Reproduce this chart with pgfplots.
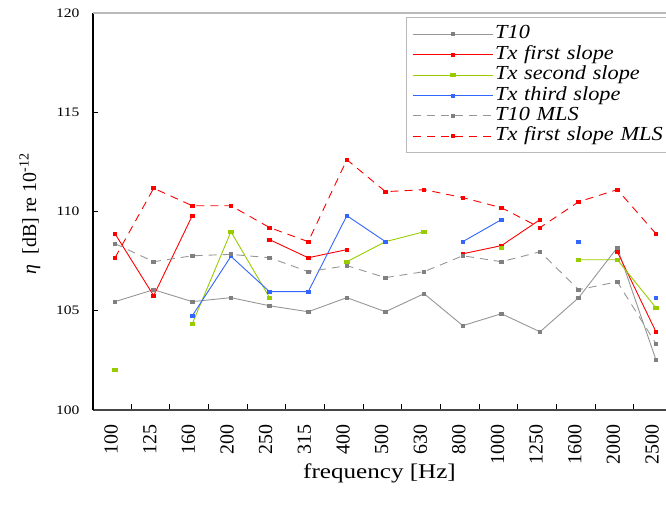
\documentclass[border=0pt]{standalone}
\usepackage{fontspec}
\setmainfont{Liberation Serif}
\newfontfamily\widefont{Liberation Serif}[FakeStretch=1.2]
\newfontfamily\legfont{Liberation Serif}[FakeStretch=1.12]
\usepackage{pgfplots}
\usepackage{pgfplotstable}
\pgfplotsset{compat=1.18}

\definecolor{cgray}{RGB}{128,128,128}
\definecolor{cgrayl}{RGB}{150,150,150}
\definecolor{cred}{RGB}{255,0,0}
\definecolor{cgreen}{RGB}{153,204,0}
\definecolor{cblue}{RGB}{51,102,255}
\definecolor{cframe}{RGB}{185,185,185}

% frequency bands at x = 0..14, gaps as nan
\pgfplotstableread{
x  t10    tx1    tx2    tx3    t10mls tx1mls
0  105.46 108.88 102.03 nan    108.38 107.67
1  106.06 105.76 nan    nan    107.47 111.17
2  105.46 109.79 104.35 104.75 107.77 110.29
3  105.66 nan    108.98 107.74 107.84 110.29
4  105.25 108.58 105.66 105.96 107.67 109.19
5  104.95 107.67 nan    105.96 106.97 108.48
6  105.66 108.08 107.47 109.79 107.27 112.61
7  104.95 nan    108.48 108.48 106.67 111.00
8  105.86 nan    108.98 nan    106.97 111.10
9  104.25 107.87 nan    108.48 107.77 110.70
10 104.85 108.28 108.18 109.59 107.47 110.19
11 103.94 109.59 nan    nan    107.97 109.19
12 105.66 nan    107.57 108.48 106.06 110.49
13 108.18 107.97 107.57 nan    106.46 111.10
14 102.53 103.94 105.15 105.66 103.34 108.88
}\etadata

% one style per series; the legend picture is spelled out so its colours are sure
\pgfplotsset{
  sgray/.style={color=cgrayl, mark=square*, mark size=1.8bp, mark options={solid, draw=cgray, fill=cgray, yscale=0.8},
    legend image code/.code={\draw[color=cgrayl, line width=0.9bp, mark repeat=2, mark phase=2, mark=square*, mark size=1.8bp, mark options={solid, draw=cgray, fill=cgray, yscale=0.8}] plot coordinates {(0bp,0bp) (40bp,0bp) (80bp,0bp)};}},
  sgraymls/.style={color=cgrayl, dash pattern=on 8bp off 6bp, mark=square*, mark size=1.8bp, mark options={solid, draw=cgray, fill=cgray, yscale=0.8},
    legend image code/.code={\draw[color=cgrayl, line width=0.9bp, dash pattern=on 8bp off 6bp, mark repeat=2, mark phase=2, mark=square*, mark size=1.8bp, mark options={solid, draw=cgray, fill=cgray, yscale=0.8}] plot coordinates {(0bp,0bp) (40bp,0bp) (80bp,0bp)};}},
  sred/.style={color=cred, mark=square*, mark size=1.8bp, mark options={solid, yscale=0.8},
    legend image code/.code={\draw[color=cred, line width=0.9bp, mark repeat=2, mark phase=2, mark=square*, mark size=1.8bp, mark options={solid, yscale=0.8}] plot coordinates {(0bp,0bp) (40bp,0bp) (80bp,0bp)};}},
  sredmls/.style={color=cred, dash pattern=on 8bp off 6bp, mark=square*, mark size=1.8bp, mark options={solid, yscale=0.8},
    legend image code/.code={\draw[color=cred, line width=0.9bp, dash pattern=on 8bp off 6bp, mark repeat=2, mark phase=2, mark=square*, mark size=1.8bp, mark options={solid, yscale=0.8}] plot coordinates {(0bp,0bp) (40bp,0bp) (80bp,0bp)};}},
  sgreen/.style={color=cgreen, mark=square*, mark size=2.2bp, mark options={solid, yscale=0.7},
    legend image code/.code={\draw[color=cgreen, line width=0.9bp, mark repeat=2, mark phase=2, mark=square*, mark size=2.2bp, mark options={solid, yscale=0.7}] plot coordinates {(0bp,0bp) (40bp,0bp) (80bp,0bp)};}},
  sblue/.style={color=cblue, mark=square*, mark size=1.8bp, mark options={solid, yscale=0.8},
    legend image code/.code={\draw[color=cblue, line width=0.9bp, mark repeat=2, mark phase=2, mark=square*, mark size=1.8bp, mark options={solid, yscale=0.8}] plot coordinates {(0bp,0bp) (40bp,0bp) (80bp,0bp)};}},
}

\begin{document}
\begin{tikzpicture}
\begin{axis}[
  at={(0bp,0bp)}, anchor=south west,
  width=573bp, height=397bp, scale only axis,
  xmin=-0.57, xmax=14.26, ymin=100, ymax=120,
  axis x line*=bottom, axis y line*=left,
  x axis line style={-, draw={rgb,255:red,70;green,70;blue,70}, line width=1.3bp},
  y axis line style={-, black, line width=1.3bp},
  tick align=inside,
  xtick={-0.1,0.9,1.9,2.9,3.9,4.9,5.9,6.9,7.9,8.9,9.9,10.9,11.9,12.9,13.9},
  xticklabels={100,125,160,200,250,315,400,500,630,800,1000,1250,1600,2000,2500},
  major x tick style={draw=none},
  minor xtick={0.42,1.42,2.42,3.42,4.42,5.42,6.42,7.42,8.42,9.42,10.42,11.42,12.42,13.42},
  minor tick length=6bp,
  minor x tick style={black, line width=0.8bp},
  ytick={100,105,110,115,120},
  major tick length=5bp,
  major y tick style={black, line width=0.8bp},
  /pgf/number format/assume math mode=true,
  xticklabel style={rotate=90, anchor=east, font=\fontsize{20}{22}\selectfont},
  xticklabel shift=11bp,
  yticklabel style={font=\widefont\fontsize{13}{15}\selectfont, xshift=-10bp},
  every axis x label/.style={at={(axis description cs:0.5,-0.16)}, anchor=center},
  every axis y label/.style={at={(axis description cs:-0.11,0.494)}, rotate=90, anchor=center},
  xlabel={\widefont\fontsize{21}{24}\selectfont frequency [Hz]},
  ylabel={\fontsize{20}{24}\selectfont{\itshape η}\ \ [dB] re 10\textsuperscript{-12}},
  unbounded coords=jump,
  every axis plot/.append style={line width=0.9bp},
  legend style={at={(rel axis cs:0.546,0.989)}, anchor=north west,
    draw=cframe, line width=0.9bp, font=\legfont\itshape\fontsize{20}{22}\selectfont,
    row sep=1.4bp, inner xsep=6bp, inner ysep=7bp,
    nodes={inner sep=0bp, text height=14bp, text depth=5bp, text width=174bp},
    column sep=2bp},
  legend cell align=left,
  clip=false,
]
\draw[cframe, line width=1.5bp] (rel axis cs:0,1) -- (rel axis cs:1,1);

\addplot[sgray] table[x=x, y=t10] {\etadata};
\addlegendentry{T10}
\addplot[sred] table[x=x, y=tx1] {\etadata};
\addlegendentry{Tx first slope}
\addplot[sgreen] table[x=x, y=tx2] {\etadata};
\addlegendentry{Tx second slope}
\addplot[sblue] table[x=x, y=tx3] {\etadata};
\addlegendentry{Tx third slope}
\addplot[sgraymls] table[x=x, y=t10mls] {\etadata};
\addlegendentry{T10 MLS}
\addplot[sredmls] table[x=x, y=tx1mls] {\etadata};
\addlegendentry{Tx first slope MLS}
\end{axis}
\pgfresetboundingbox
\path[use as bounding box] (-93bp,-96bp) rectangle (573bp,410bp);
\end{tikzpicture}
\end{document}
